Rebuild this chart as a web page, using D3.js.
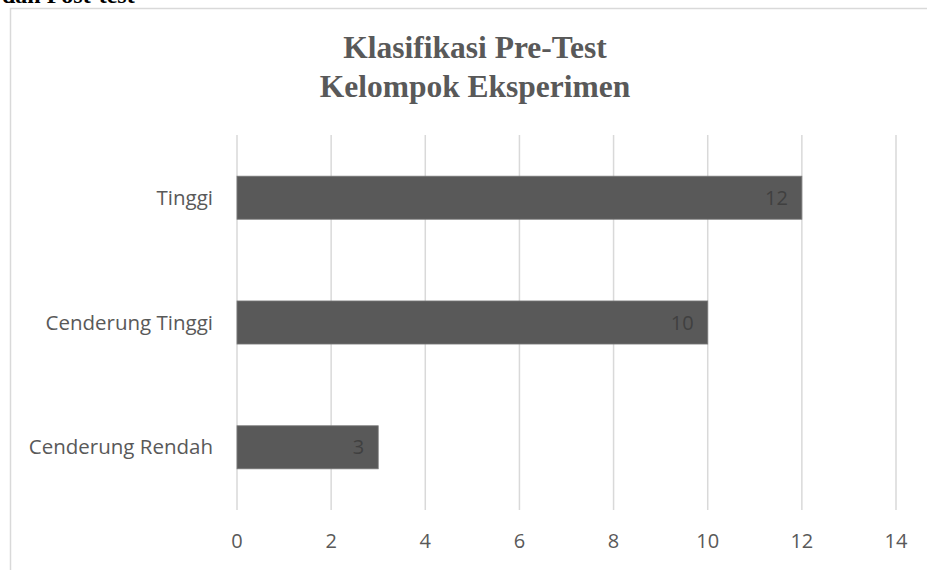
<!DOCTYPE html>
<meta charset="utf-8">
<style>
  body { margin: 0; background: #fff; }
  text { font-family: "Open Sans", sans-serif; }
</style>
<body>
<script src="https://d3js.org/d3.v7.min.js"></script>
<script>
// chart data
const categories = ["Tinggi", "Cenderung Tinggi", "Cenderung Rendah"];
const values = [12, 10, 3];
const xTicks = [0, 2, 4, 6, 8, 10, 12, 14];
const titleLines = ["Klasifikasi Pre-Test", "Kelompok Eksperimen"];

const W = 927, H = 570;
const plot = {left: 237, right: 896, top: 135, bottom: 510};

const svg = d3.select("body").append("svg")
    .attr("width", W)
    .attr("height", H);

// cropped heading of the page above the chart
svg.append("text")
    .attr("x", 2)
    .attr("y", 3)
    .style("font-family", "'Liberation Serif', serif")
    .style("font-weight", "bold")
    .style("font-size", "24px")
    .attr("fill", "#000")
    .text("dan Post-test");

// chart area border
svg.append("rect")
    .attr("x", 10.5)
    .attr("y", 8.5)
    .attr("width", 930)
    .attr("height", 600)
    .attr("fill", "#fff")
    .attr("stroke", "#d9d9d9")
    .attr("stroke-width", 1.5);

const x = d3.scaleLinear()
    .domain([0, 14])
    .range([plot.left, plot.right]);

const y = d3.scaleBand()
    .domain(categories)
    .range([plot.top, plot.bottom])
    .paddingInner(0.655)
    .paddingOuter(0.33);

// gridlines
svg.append("g")
    .selectAll("line")
    .data(xTicks)
    .join("line")
    .attr("x1", d => x(d))
    .attr("x2", d => x(d))
    .attr("y1", plot.top)
    .attr("y2", plot.bottom)
    .attr("stroke", "#d9d9d9")
    .attr("stroke-width", 1.5);

// bars
svg.append("g")
    .selectAll("rect")
    .data(values)
    .join("rect")
    .attr("x", x(0))
    .attr("y", (d, i) => y(categories[i]))
    .attr("width", d => x(d) - x(0))
    .attr("height", y.bandwidth())
    .attr("fill", "#595959")
    .attr("stroke", "#7a7a7a")
    .attr("stroke-width", 0.8);

// value labels
svg.append("g")
    .selectAll("text")
    .data(values)
    .join("text")
    .attr("x", d => x(d) - 14)
    .attr("y", (d, i) => y(categories[i]) + y.bandwidth() / 2)
    .attr("dy", "0.35em")
    .attr("text-anchor", "end")
    .attr("fill", "#404040")
    .style("font-size", "20px")
    .text(d => d);

// category labels
svg.append("g")
    .selectAll("text")
    .data(categories)
    .join("text")
    .attr("x", 213)
    .attr("y", d => y(d) + y.bandwidth() / 2)
    .attr("dy", "0.35em")
    .attr("text-anchor", "end")
    .attr("fill", "#595959")
    .style("font-size", "20.5px")
    .text(d => d);

// x tick labels
svg.append("g")
    .selectAll("text")
    .data(xTicks)
    .join("text")
    .attr("x", d => x(d))
    .attr("y", 541)
    .attr("dy", "0.35em")
    .attr("text-anchor", "middle")
    .attr("fill", "#595959")
    .style("font-size", "20px")
    .text(d => d);

// title
svg.append("g")
    .selectAll("text")
    .data(titleLines)
    .join("text")
    .attr("x", 475)
    .attr("y", (d, i) => 58 + i * 39)
    .attr("text-anchor", "middle")
    .attr("fill", "#595959")
    .style("font-family", "'Liberation Serif', 'Times New Roman', serif")
    .style("font-weight", "bold")
    .style("font-size", "31.5px")
    .text(d => d);
</script>
</body>
